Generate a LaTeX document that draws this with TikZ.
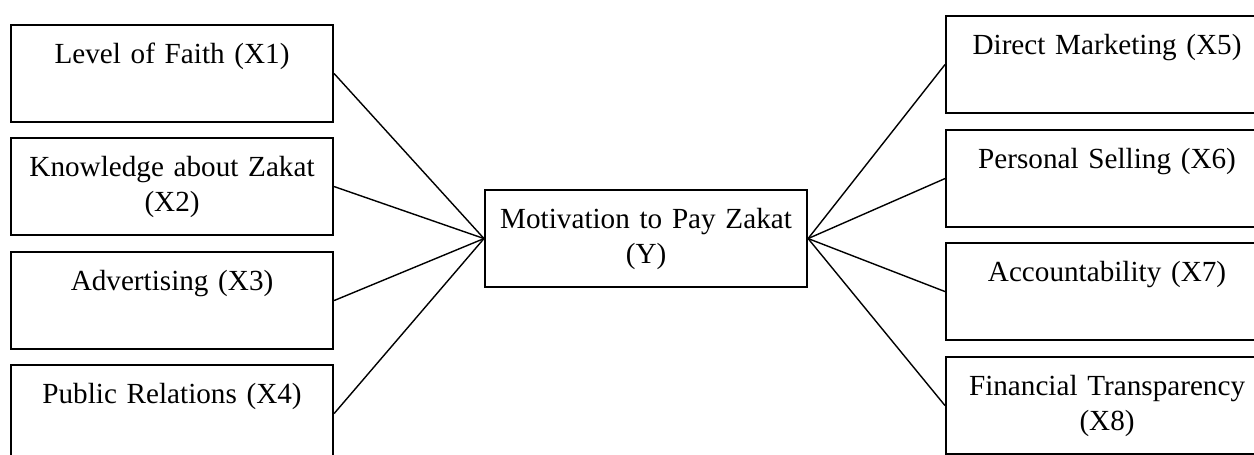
\documentclass[tikz,border=0pt]{standalone}
\usepackage{fontspec}
\setmainfont{Liberation Serif}
\begin{document}
\begin{tikzpicture}
		\tikzstyle{factor}=[rectangle,draw=black,line width=1.2pt,anchor=north west,inner sep=0pt,minimum width=6.44cm,minimum height=1.94cm,text width=6.1cm,align=center,text height=0.76cm,text depth=1.18cm,font=\fontsize{16.6}{20.4}\selectfont]
		\tikzstyle{edge}=[draw, line width=0.8pt]
		\useasboundingbox (0,0) rectangle (25.08,-9.08);
		\clip (0,0) rectangle (25.08,-9.08);
		\begin{scope}
			% independent variables, left
			\node [factor] (x1) at (0.20,-0.48) {Level of Faith (X1)};
			\node [factor] (x2) at (0.20,-2.74) {Knowledge about Zakat\\(X2)};
			\node [factor] (x3) at (0.20,-5.02) {Advertising (X3)};
			\node [factor] (x4) at (0.20,-7.28) {Public Relations (X4)};
			% dependent variable
			\node [factor] (y) at (9.68,-3.78) {Motivation to Pay Zakat\\(Y)};
			% independent variables, right
			\node [factor] (x5) at (18.90,-0.30) {Direct Marketing (X5)};
			\node [factor] (x6) at (18.90,-2.58) {Personal Selling (X6)};
			\node [factor] (x7) at (18.90,-4.84) {Accountability (X7)};
			\node [factor] (x8) at (18.90,-7.12) {Financial Transparency\\(X8)};
			\path[edge] (x1.east) edge (y.west);
			\path[edge] (x2.east) edge (y.west);
			\path[edge] (x3.east) edge (y.west);
			\path[edge] (x4.east) edge (y.west);
			\path[edge] (x5.west) edge (y.east);
			\path[edge] (x6.west) edge (y.east);
			\path[edge] (x7.west) edge (y.east);
			\path[edge] (x8.west) edge (y.east);
		\end{scope}
\end{tikzpicture}
\end{document}
